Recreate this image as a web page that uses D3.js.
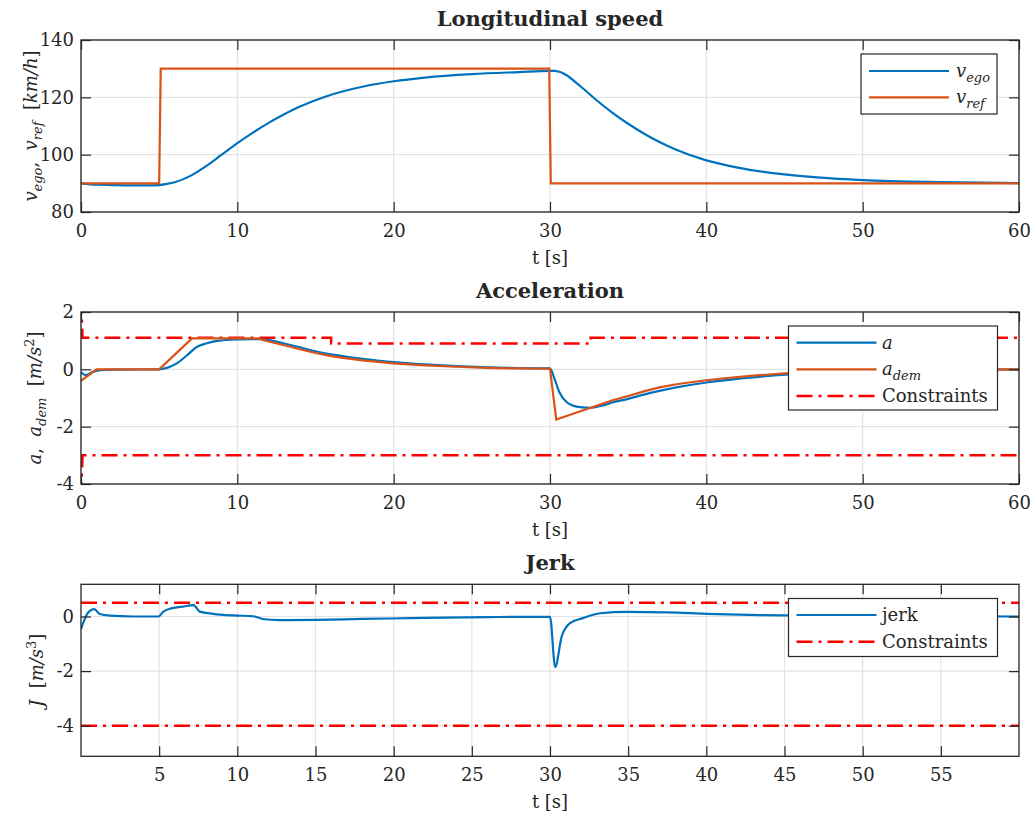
<!DOCTYPE html>
<html>
<head>
<meta charset="utf-8">
<script src="https://cdn.jsdelivr.net/npm/d3@7"></script>
<style>
  body { margin: 0; background: #fff; }
  text { font-family: "DejaVu Serif", serif; fill: #262626; }
  .title { font-weight: bold; }
</style>
</head>
<body>
<svg id="chart" width="1035" height="821"></svg>
<script>
// ---- data ----
const speedT   = [0, 1, 2, 3, 4, 5, 5.5, 6, 7, 8, 9, 10, 11, 12, 13, 14, 15, 16, 18, 20, 22, 25, 28, 30, 30.3, 30.6, 31, 32, 33, 34, 35, 36, 37, 38, 40, 42, 45, 48, 50, 55, 60];
const speedEgo = [90, 89.5, 89.4, 89.3, 89.3, 89.4, 89.8, 90.4, 92.6, 96, 100, 104, 107.7, 111.1, 114.1, 116.8, 119, 120.9, 123.7, 125.6, 126.9, 128.1, 128.8, 129.2, 129.2, 128.9, 127.9, 123.6, 118.9, 114.6, 110.8, 107.4, 104.4, 101.9, 98, 95.5, 93.1, 91.7, 91.1, 90.4, 90.1];
const refT     = [0, 5, 5.1, 29.95, 30.05, 60];
const speedRef = [90, 90, 130, 130, 90, 90];

const accT = [0, 0.3, 0.8, 1.5, 2.5, 5, 5.5, 6.1, 6.8, 7.4, 8, 8.7, 10, 11.4, 12, 13, 14, 15, 16, 17, 18, 20, 22, 24, 26, 28, 30, 30.3, 30.6, 31.07, 31.5, 31.9, 32.6, 33.3, 34.05, 35, 36, 37, 38, 40, 42, 44, 46, 48, 50, 55, 60];
const accA = [-0.1, -0.2, -0.08, -0.02, -0.01, 0, 0.05, 0.2, 0.5, 0.78, 0.9, 0.99, 1.04, 1.05, 1.02, 0.9, 0.77, 0.63, 0.52, 0.44, 0.37, 0.25, 0.17, 0.11, 0.07, 0.04, 0.03, -0.35, -0.8, -1.15, -1.27, -1.32, -1.34, -1.27, -1.15, -1.03, -0.88, -0.75, -0.64, -0.46, -0.33, -0.23, -0.15, -0.1, -0.06, -0.02, 0];
const accDemT = [0, 1, 5, 7.1, 11.3, 12, 13, 14, 15, 16, 17, 18, 19, 20, 22, 24, 26, 28, 30, 30.4, 32.6, 34, 35, 36, 37, 38, 39, 40, 41, 42, 43, 44, 45, 46, 48, 50, 52, 55, 58, 60];
const accDem  = [-0.4, 0, 0, 1.08, 1.08, 0.97, 0.84, 0.7, 0.57, 0.46, 0.38, 0.31, 0.26, 0.21, 0.14, 0.09, 0.05, 0.03, 0.02, -1.75, -1.34, -1.08, -0.93, -0.77, -0.63, -0.53, -0.45, -0.38, -0.32, -0.27, -0.22, -0.18, -0.14, -0.12, -0.08, -0.05, -0.035, -0.02, -0.01, 0];
const accConsT  = [0, 0.1, 16, 16, 32.6, 32.6, 60];
const accConsUp = [2.5, 1.1, 1.1, 0.9, 0.9, 1.1, 1.1];
const accConsLo = [-4.5, -3, -3, -3, -3, -3, -3];

const jerkT   = [0, 0.2, 0.4, 0.85, 1.2, 1.85, 3.3, 4.95, 5.27, 5.7, 6.5, 7.2, 7.6, 8.45, 9.75, 11.03, 11.7, 12.7, 15, 18, 22, 26, 30, 30.33, 30.75, 31.28, 32.1, 33.2, 34.9, 37.5, 40, 43.4, 47, 50, 55, 60];
const jerkVal = [-0.46, -0.15, 0.1, 0.27, 0.09, 0.03, 0, 0, 0.18, 0.29, 0.36, 0.42, 0.18, 0.1, 0.04, 0.01, -0.1, -0.13, -0.12, -0.09, -0.05, -0.02, -0.01, -1.85, -0.73, -0.24, -0.06, 0.12, 0.17, 0.15, 0.1, 0.05, 0.03, 0.02, 0.01, 0];
const jerkConsT  = [0, 60];
const jerkConsUp = [0.5, 0.5];
const jerkConsLo = [-4, -4];

const xTicksFull = [0, 10, 20, 30, 40, 50, 60];
const xTicksJerk = [5, 10, 15, 20, 25, 30, 35, 40, 45, 50, 55];

// ---- layout ----
const blue = "#0072BD", orange = "#D95319", red = "#FF0000", ink = "#262626";
const left = 81, right = 1019, ph = 172;
const fs = 18;
const sp = "\u00a0";
const x = d3.scaleLinear().domain([0, 60]).range([left, right]);
const svg = d3.select("#chart");
const zip = (ts, vs) => ts.map((t, i) => [t, vs[i]]);

const panels = [
  { top: 40, domain: [80, 140], yTicks: [80, 100, 120, 140], xTicks: xTicksFull,
    title: "Longitudinal speed", labelX: 37,
    label: [["v", "i"], ["ego", "is"], ["," + sp + sp, ""], ["v", "i"], ["ref", "is"], [sp + sp + "[", ""], ["km/h", "i"], ["]", ""]],
    series: [
      { d: zip(speedT, speedEgo), color: blue, curve: d3.curveMonotoneX },
      { d: zip(refT, speedRef), color: orange, curve: d3.curveLinear }],
    legend: { x: 861, y: 54, w: 136, h: 60, rows: [71, 97.3], textX: 956,
      items: [{ color: blue, txt: [["v", "i"], ["ego", "is"]] }, { color: orange, txt: [["v", "i"], ["ref", "is"]] }] } },
  { top: 312, domain: [-4, 2], yTicks: [-4, -2, 0, 2], xTicks: xTicksFull,
    title: "Acceleration", labelX: 41,
    label: [["a", "i"], ["," + sp + sp, ""], ["a", "i"], ["dem", "is"], [sp + sp + "[", ""], ["m/s", "i"], ["2", "sup"], ["]", ""]],
    series: [
      { d: zip(accConsT, accConsUp), color: red, curve: d3.curveLinear, dash: true },
      { d: zip(accConsT, accConsLo), color: red, curve: d3.curveLinear, dash: true },
      { d: zip(accT, accA), color: blue, curve: d3.curveMonotoneX },
      { d: zip(accDemT, accDem), color: orange, curve: d3.curveLinear }],
    legend: { x: 788.5, y: 326, w: 209, h: 84, rows: [342.7, 369.3, 396], textX: 882,
      items: [{ color: blue, txt: [["a", "i"]] }, { color: orange, txt: [["a", "i"], ["dem", "is"]] },
              { color: red, dash: true, txt: [["Constraints", ""]] }] } },
  { top: 584.3, domain: [-5.12, 1.18], yTicks: [-4, -2, 0], xTicks: xTicksJerk,
    title: "Jerk", labelX: 43,
    label: [["J", "i"], [sp + sp + "[", ""], ["m/s", "i"], ["3", "sup"], ["]", ""]],
    series: [
      { d: zip(jerkConsT, jerkConsUp), color: red, curve: d3.curveLinear, dash: true },
      { d: zip(jerkConsT, jerkConsLo), color: red, curve: d3.curveLinear, dash: true },
      { d: zip(jerkT, jerkVal), color: blue, curve: d3.curveMonotoneX }],
    legend: { x: 788.5, y: 598.5, w: 209, h: 58, rows: [615, 641.7], textX: 882,
      items: [{ color: blue, txt: [["jerk", ""]] }, { color: red, dash: true, txt: [["Constraints", ""]] }] } }
];

// rich text: parts of [string, style] with "i" italic, "is" italic subscript, "sup" superscript
function richText(sel, parts) {
  let shift = 0;
  parts.forEach(([s, st]) => {
    const want = st === "is" ? 5 : st === "sup" ? -7 : 0;
    const ts = sel.append("tspan").text(s).attr("dy", want - shift);
    shift = want;
    if (st === "i" || st === "is") ts.style("font-style", "italic");
    if (st === "is" || st === "sup") ts.style("font-size", "13px");
  });
}

panels.forEach((p, k) => {
  const bottom = p.top + ph;
  const y = d3.scaleLinear().domain(p.domain).range([bottom, p.top]);
  const g = svg.append("g");

  // grid
  g.append("g").selectAll("line").data(p.xTicks).join("line")
    .attr("x1", d => x(d)).attr("x2", d => x(d)).attr("y1", p.top).attr("y2", bottom)
    .attr("stroke", "#e3e3e3").attr("stroke-width", 1.2);
  g.append("g").selectAll("line").data(p.yTicks).join("line")
    .attr("x1", left).attr("x2", right).attr("y1", d => y(d)).attr("y2", d => y(d))
    .attr("stroke", "#e3e3e3").attr("stroke-width", 1.2);

  // data
  const clipId = "clip" + k;
  svg.append("clipPath").attr("id", clipId).append("rect")
    .attr("x", left).attr("y", p.top).attr("width", right - left).attr("height", ph);
  const lines = g.append("g").attr("clip-path", `url(#${clipId})`);
  p.series.forEach(s => {
    lines.append("path")
      .attr("d", d3.line().x(d => x(d[0])).y(d => y(d[1])).curve(s.curve)(s.d))
      .attr("fill", "none").attr("stroke", s.color)
      .attr("stroke-width", s.dash ? 2.5 : 2.2)
      .attr("stroke-dasharray", s.dash ? "16,6,3,6" : null);
  });

  // axes with inward ticks on all four sides
  const fmt = d => String(d);
  const ax = (axis, tx) => {
    const a = g.append("g").attr("transform", tx).attr("color", ink).call(axis);
    a.select(".domain").remove();
    a.selectAll("line").attr("stroke-width", 1.2);
    a.selectAll("text").style("font-size", fs + "px").attr("fill", ink);
    return a;
  };
  ax(d3.axisBottom(x).tickValues(p.xTicks).tickFormat(fmt).tickSize(-10).tickSizeOuter(0).tickPadding(12), `translate(0,${bottom})`);
  ax(d3.axisTop(x).tickValues(p.xTicks).tickFormat("").tickSize(-10).tickSizeOuter(0), `translate(0,${p.top})`);
  ax(d3.axisLeft(y).tickValues(p.yTicks).tickFormat(fmt).tickSize(-10).tickSizeOuter(0).tickPadding(7), `translate(${left},0)`);
  ax(d3.axisRight(y).tickValues(p.yTicks).tickFormat("").tickSize(-10).tickSizeOuter(0), `translate(${right},0)`);
  g.append("rect").attr("x", left).attr("y", p.top).attr("width", right - left).attr("height", ph)
    .attr("fill", "none").attr("stroke", ink).attr("stroke-width", 1.3);

  // titles and labels
  g.append("text").attr("class", "title").attr("x", (left + right) / 2).attr("y", p.top - 14)
    .attr("text-anchor", "middle").style("font-size", "21px").text(p.title);
  g.append("text").attr("x", (left + right) / 2).attr("y", bottom + 52)
    .attr("text-anchor", "middle").style("font-size", fs + "px").text("t [s]");
  const yl = g.append("text").attr("text-anchor", "middle").style("font-size", fs + "px")
    .attr("transform", `translate(${p.labelX},${(p.top + bottom) / 2}) rotate(-90)`);
  richText(yl, p.label);

  // legend
  const L = p.legend;
  g.append("rect").attr("x", L.x).attr("y", L.y).attr("width", L.w).attr("height", L.h)
    .attr("fill", "#fff").attr("stroke", ink).attr("stroke-width", 1.2);
  L.items.forEach((it, i) => {
    const ry = L.rows[i];
    g.append("line").attr("x1", L.x + 8).attr("x2", L.x + 88).attr("y1", ry).attr("y2", ry)
      .attr("stroke", it.color).attr("stroke-width", it.dash ? 2.5 : 2.2)
      .attr("stroke-dasharray", it.dash ? "16,6,3,6" : null);
    const t = g.append("text").attr("x", L.textX).attr("y", ry + 6).style("font-size", fs + "px");
    richText(t, it.txt);
  });
});
</script>
</body>
</html>
